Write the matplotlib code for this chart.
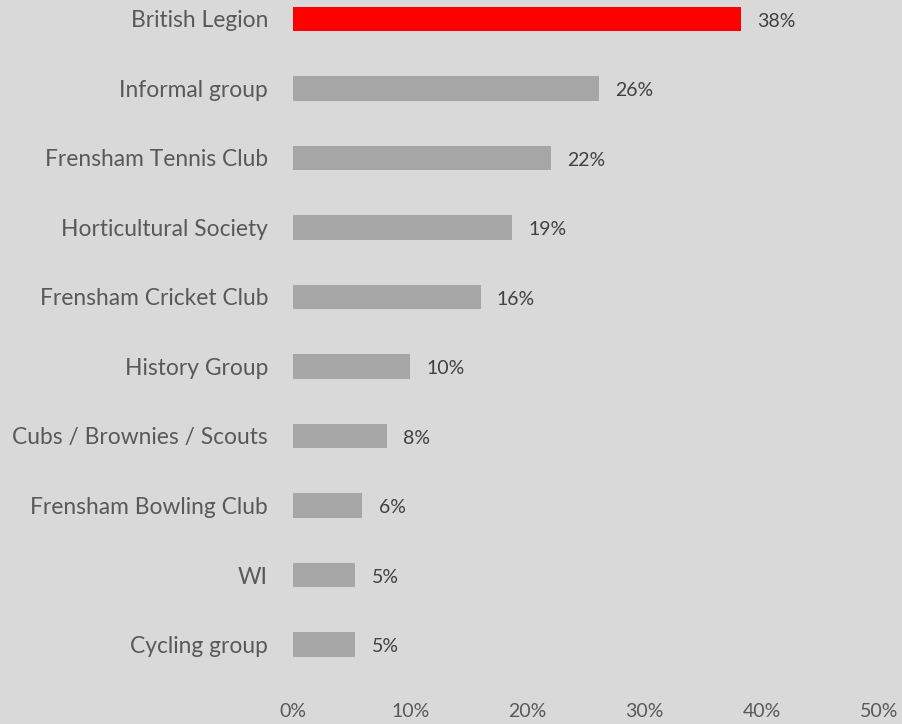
import matplotlib.pyplot as plt

# data
categories = ["British Legion", "Informal group", "Frensham Tennis Club",
              "Horticultural Society", "Frensham Cricket Club", "History Group",
              "Cubs / Brownies / Scouts", "Frensham Bowling Club", "WI", "Cycling group"]
values = [38.2, 26.1, 22.0, 18.7, 16.0, 10.0, 8.0, 5.9, 5.3, 5.3]
labels = ["38%", "26%", "22%", "19%", "16%", "10%", "8%", "6%", "5%", "5%"]
xticks = [0, 10, 20, 30, 40, 50]

plt.rcParams['font.family'] = ['Lato', 'DejaVu Sans']

bg = '#d9d9d9'
fig = plt.figure(figsize=(9.03, 7.24), dpi=100, facecolor=bg)
ax = fig.add_axes([0.3245, 0.0618, 0.649, 0.96])
ax.set_facecolor(bg)

colors = ['#ff0000'] + ['#a6a6a6'] * (len(values) - 1)
y = list(range(len(categories)))
ax.barh(y, values, height=0.35, color=colors)
for yi, v, lab in zip(y, values, labels):
    ax.text(v + 1.4, yi + 0.03, lab, va='center', ha='left', fontsize=14, color='#404040')

ax.set_ylim(len(categories) - 0.5, -0.5)
ax.set_xlim(0, 50)
ax.set_yticks(y)
ax.set_yticklabels(categories, fontsize=16.4, color='#595959')
ax.set_xticks(xticks)
ax.set_xticklabels([f"{t}%" for t in xticks], fontsize=14, color='#595959')
ax.tick_params(axis='y', length=0, pad=18)
ax.tick_params(axis='x', length=0, pad=17)
for s in ax.spines.values():
    s.set_visible(False)

fig.savefig('out.png', dpi=100, facecolor=bg)
